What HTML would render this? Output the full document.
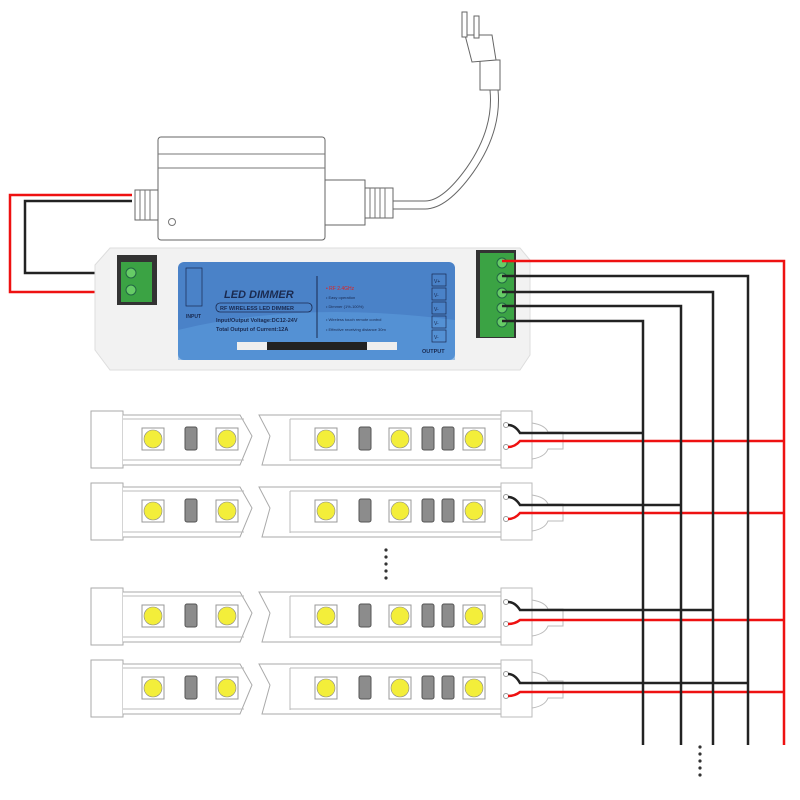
<!DOCTYPE html>
<html><head><meta charset="utf-8"><style>
html,body{margin:0;padding:0;background:#fff}
svg{display:block}
text{font-family:"Liberation Sans",Arial,sans-serif}
</style></head><body>
<svg width="800" height="800" viewBox="0 0 800 800" xmlns="http://www.w3.org/2000/svg">
<defs>
<g id="strip">
  <rect x="91" y="0" width="32" height="57" fill="#fff" stroke="#aaa" stroke-width="1"/>
  <path d="M123 4 H240 L252 25 L240 54 H123" fill="#fff" stroke="#aaa"/>
  <line x1="123" y1="8" x2="244" y2="8" stroke="#bbb"/>
  <line x1="123" y1="49" x2="244" y2="49" stroke="#bbb"/>
  <path d="M259 4 L270 25 L262 54 H501 V4 Z" fill="#fff" stroke="#aaa"/>
  <line x1="290" y1="8" x2="290" y2="50" stroke="#bbb"/>
  <line x1="290" y1="8" x2="501" y2="8" stroke="#bbb"/>
  <line x1="290" y1="49" x2="501" y2="49" stroke="#bbb"/>
  <rect x="501" y="0" width="31" height="57" fill="#fff" stroke="#bbb"/>
  <path d="M532 12 Q545 14 548 21 H563 V38 H548 Q545 46 532 48" fill="none" stroke="#bbb"/>
  <g fill="#fff" stroke="#999">
    <rect x="142" y="17" width="22" height="22"/><rect x="216" y="17" width="22" height="22"/>
    <rect x="315" y="17" width="22" height="22"/><rect x="389" y="17" width="22" height="22"/>
    <rect x="463" y="17" width="22" height="22"/>
  </g>
  <g fill="#f3ee3a" stroke="#888" stroke-width="0.6">
    <circle cx="153" cy="28" r="9"/><circle cx="227" cy="28" r="9"/><circle cx="326" cy="28" r="9"/><circle cx="400" cy="28" r="9"/><circle cx="474" cy="28" r="9"/>
  </g>
  <g fill="#8c8c8c" stroke="#555">
    <rect x="185" y="16" width="12" height="23" rx="2"/><rect x="359" y="16" width="12" height="23" rx="2"/>
    <rect x="422" y="16" width="12" height="23" rx="2"/><rect x="442" y="16" width="12" height="23" rx="2"/>
  </g>
  <circle cx="506" cy="14" r="2.5" fill="#fff" stroke="#999"/>
  <circle cx="506" cy="36" r="2.5" fill="#fff" stroke="#999"/>
</g>
</defs>

<!-- plug & cable -->
<path d="M390 205 H425 Q445 205 470 170 Q498 130 494 90" fill="none" stroke="#666" stroke-width="9"/>
<path d="M390 205 H425 Q445 205 470 170 Q498 130 494 90" fill="none" stroke="#fff" stroke-width="7"/>
<g fill="#fff" stroke="#666">
  <rect x="480" y="60" width="20" height="30"/>
  <path d="M465 35 L492 35 L496 60 L472 62 Z"/>
  <rect x="462" y="12" width="5" height="25"/><rect x="474" y="16" width="5" height="22"/>
</g>
<!-- adapter -->
<g stroke="#666" fill="#fff">
  <rect x="325" y="180" width="40" height="45"/>
  <rect x="365" y="188" width="28" height="30"/>
  <rect x="158" y="137" width="167" height="103" rx="3"/>
  <rect x="135" y="190" width="23" height="30"/>
</g>
<line x1="158" y1="154" x2="325" y2="154" stroke="#777"/>
<line x1="158" y1="168" x2="325" y2="168" stroke="#777"/>
<circle cx="172" cy="222" r="3.5" fill="none" stroke="#777"/>
<g stroke="#777"><line x1="140" y1="190" x2="140" y2="220"/><line x1="145" y1="190" x2="145" y2="220"/><line x1="150" y1="190" x2="150" y2="220"/><line x1="370" y1="188" x2="370" y2="218"/><line x1="375" y1="188" x2="375" y2="218"/><line x1="380" y1="188" x2="380" y2="218"/><line x1="385" y1="188" x2="385" y2="218"/></g>

<!-- input wires -->
<path d="M132 195 H10 V292 H132" fill="none" stroke="#e11" stroke-width="2.5"/>
<path d="M132 201 H25 V273 H132" fill="none" stroke="#222" stroke-width="2.5"/>

<!-- dimmer body -->
<path d="M110 248 H520 L530 260 V355 L520 370 H110 L95 350 V265 Z" fill="#f2f2f2" stroke="#ddd"/>
<rect x="178" y="262" width="277" height="98" rx="6" fill="#4a82c8"/>
<path d="M178 330 Q300 300 455 320 V360 H178Z" fill="#5b9bdc" opacity="0.6"/>
<rect x="237" y="342" width="160" height="8" fill="#222"/>
<rect x="237" y="342" width="30" height="8" fill="#eee"/><rect x="367" y="342" width="30" height="8" fill="#eee"/>
<text x="224" y="298" font-size="11" font-weight="bold" font-style="italic" fill="#1a2a50">LED DIMMER</text>
<rect x="216" y="303" width="96" height="9" rx="4" fill="none" stroke="#1a2a50" stroke-width="0.8"/>
<text x="220" y="310" font-size="5.5" font-weight="bold" fill="#1a2a50">RF WIRELESS LED DIMMER</text>
<text x="216" y="322" font-size="5.5" font-weight="bold" fill="#1a2a50">Input/Output Voltage:DC12-24V</text>
<text x="216" y="331" font-size="5.5" font-weight="bold" fill="#1a2a50">Total Output of Current:12A</text>
<line x1="317" y1="276" x2="317" y2="338" stroke="#1a2a50"/>
<text x="326" y="290" font-size="5" fill="#d22">• RF 2.4GHz</text>
<g font-size="4" fill="#1a2a50"><text x="326" y="299">• Easy operation</text><text x="326" y="308">• Dimmer (1%-100%)</text><text x="326" y="321">• Wireless touch remote control</text><text x="326" y="331">• Effective receiving distance 30m</text></g>
<g fill="none" stroke="#1a2a50" stroke-width="0.7"><rect x="432" y="274" width="14" height="12"/><rect x="432" y="288" width="14" height="12"/><rect x="432" y="302" width="14" height="12"/><rect x="432" y="316" width="14" height="12"/><rect x="432" y="330" width="14" height="12"/></g>
<g font-size="5" fill="#1a2a50"><text x="434" y="283">V+</text><text x="434" y="297">V-</text><text x="434" y="311">V-</text><text x="434" y="325">V-</text><text x="434" y="339">V-</text></g>
<rect x="186" y="268" width="16" height="38" fill="none" stroke="#1a2a50" stroke-width="0.7"/>
<text x="186" y="318" font-size="5" font-weight="bold" fill="#1a2a50">INPUT</text>
<text x="422" y="353" font-size="5.5" font-weight="bold" fill="#1a2a50">OUTPUT</text>
<!-- terminals -->
<rect x="117" y="255" width="40" height="50" fill="#333"/>
<rect x="121" y="262" width="31" height="40" fill="#3ba344"/>
<circle cx="131" cy="273" r="5" fill="#6c6" stroke="#264"/><circle cx="131" cy="290" r="5" fill="#6c6" stroke="#264"/>
<rect x="476" y="250" width="40" height="88" fill="#333"/>
<rect x="480" y="253" width="34" height="84" fill="#3ba344"/>
<g fill="#6c6" stroke="#264"><circle cx="502" cy="263" r="5"/><circle cx="502" cy="278" r="5"/><circle cx="502" cy="293" r="5"/><circle cx="502" cy="308" r="5"/><circle cx="502" cy="322" r="5"/></g>

<!-- strips -->
<use href="#strip" y="411"/>
<use href="#strip" y="483"/>
<use href="#strip" y="588"/>
<use href="#strip" y="660"/>

<!-- strip wires -->
<g fill="none" stroke-width="2.5">
<path d="M508 425 Q515 425 520 433 H643" stroke="#222"/>
<path d="M508 447 Q515 447 520 441 H784" stroke="#e11"/>
<path d="M508 497 Q515 497 520 505 H681" stroke="#222"/>
<path d="M508 519 Q515 519 520 513 H784" stroke="#e11"/>
<path d="M508 602 Q515 602 520 610 H713" stroke="#222"/>
<path d="M508 624 Q515 624 520 620 H784" stroke="#e11"/>
<path d="M508 674 Q515 674 520 683 H748" stroke="#222"/>
<path d="M508 696 Q515 696 520 692 H784" stroke="#e11"/>
<!-- output wires -->
<path d="M502 261 H784 V745" stroke="#e11"/>
<path d="M502 276 H748 V745" stroke="#222"/>
<path d="M502 292 H713 V745" stroke="#222"/>
<path d="M502 306 H681 V745" stroke="#222"/>
<path d="M502 321 H643 V745" stroke="#222"/>
</g>
<g fill="#333"><circle cx="386" cy="550" r="1.6"/><circle cx="386" cy="557" r="1.6"/><circle cx="386" cy="564" r="1.6"/><circle cx="386" cy="571" r="1.6"/><circle cx="386" cy="578" r="1.6"/>
<circle cx="700" cy="747" r="1.6"/><circle cx="700" cy="754" r="1.6"/><circle cx="700" cy="761" r="1.6"/><circle cx="700" cy="768" r="1.6"/><circle cx="700" cy="775" r="1.6"/></g>
</svg>
</body></html>
